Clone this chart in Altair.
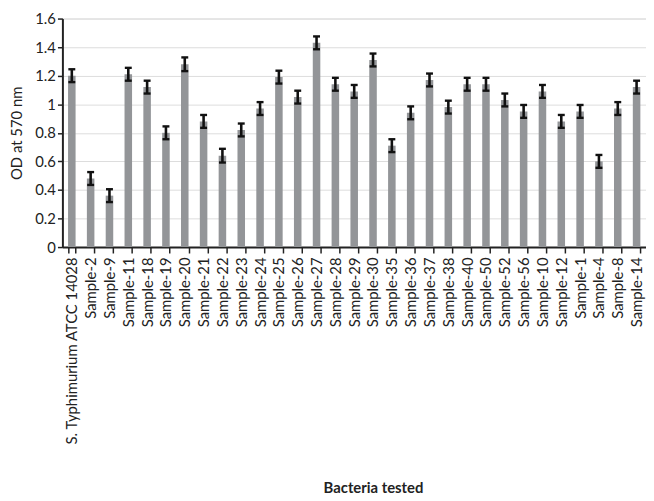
import altair as alt
import pandas as pd

categories = ["S. Typhimurium ATCC 14028", "Sample-2", "Sample-9", "Sample-11", "Sample-18",
              "Sample-19", "Sample-20", "Sample-21", "Sample-22", "Sample-23", "Sample-24",
              "Sample-25", "Sample-26", "Sample-27", "Sample-28", "Sample-29", "Sample-30",
              "Sample-35", "Sample-36", "Sample-37", "Sample-38", "Sample-40", "Sample-50",
              "Sample-52", "Sample-56", "Sample-10", "Sample-12", "Sample-1", "Sample-4",
              "Sample-8", "Sample-14"]
values = [1.20, 0.48, 0.36, 1.21, 1.12, 0.80, 1.28, 0.88, 0.64, 0.82, 0.97, 1.19, 1.05,
          1.43, 1.14, 1.09, 1.31, 0.71, 0.94, 1.17, 0.98, 1.14, 1.14, 1.03, 0.95, 1.09,
          0.88, 0.95, 0.60, 0.97, 1.12]
errors = [0.045, 0.045, 0.045, 0.045, 0.045, 0.045, 0.048, 0.045, 0.048, 0.045, 0.045,
          0.045, 0.045, 0.045, 0.045, 0.045, 0.045, 0.045, 0.045, 0.045, 0.045, 0.045,
          0.045, 0.045, 0.045, 0.045, 0.045, 0.045, 0.045, 0.045, 0.045]
y_ticks = [0, 0.2, 0.4, 0.6, 0.8, 1, 1.2, 1.4, 1.6]

df = pd.DataFrame({"cat": categories, "val": values, "err": errors})
df["lo"] = df["val"] - df["err"]
df["hi"] = df["val"] + df["err"]

FONT = "Lato"
INK = "#222"
ERR = "#111"

xscale = alt.Scale(paddingInner=0.6, paddingOuter=0.3)
yscale = alt.Scale(domain=[0, 1.6])

x_axis = alt.Axis(title="Bacteria tested", labelAngle=-90, labelFontSize=15,
                  labelFont=FONT, labelColor=INK, labelPadding=4,
                  tickBand="extent", tickSize=6, tickColor=INK,
                  domainColor=INK, domainWidth=2, tickWidth=1.5,
                  titleFont=FONT, titleFontSize=15, titleFontWeight="bold",
                  titleColor=INK, titleX=314, titleY=243, titleBaseline="middle",
                  labelLimit=300, labelOverlap=False)
y_axis = alt.Axis(title="OD at 570 nm", values=y_ticks,
                  format="~g", labelFontSize=15, labelFont=FONT,
                  labelColor=INK, tickSize=5, tickColor=INK, tickWidth=1.5,
                  domainColor=INK, domainWidth=2, titleFont=FONT,
                  titleFontSize=15, titleFontWeight="normal", titleColor=INK,
                  titlePadding=10, labelOverlap=False)

x_enc = alt.X("cat:N", sort=categories, scale=xscale, axis=x_axis)

base = alt.Chart(df).encode(x=x_enc)

bars = base.mark_bar(color="#939598").encode(
    y=alt.Y("val:Q", scale=yscale, axis=y_axis))

rules = base.mark_rule(color=ERR, strokeWidth=2.6).encode(
    y=alt.Y("lo:Q", scale=yscale, axis=y_axis), y2="hi:Q")

caps_lo = base.mark_tick(color=ERR, thickness=2.4, size=7, opacity=1).encode(
    y=alt.Y("lo:Q", scale=yscale, axis=y_axis))
caps_hi = base.mark_tick(color=ERR, thickness=2.4, size=7, opacity=1).encode(
    y=alt.Y("hi:Q", scale=yscale, axis=y_axis))

chart = alt.layer(bars, rules, caps_lo, caps_hi).properties(
    width=590, height=231,
    autosize=alt.AutoSizeParams(type="none"),
    padding={"left": 55, "top": 8, "right": 0, "bottom": 250},
).configure_view(stroke=None).configure_axis(grid=False).configure(background="white")

chart.save("out.html", embed_options={"renderer": "svg", "actions": False})
